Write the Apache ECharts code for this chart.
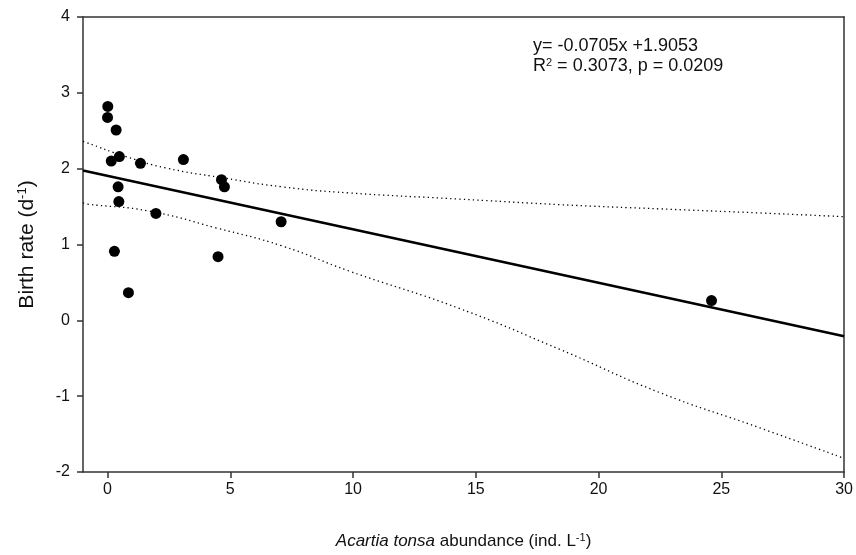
<!DOCTYPE html>
<html>
<head>
<meta charset="utf-8">
<script src="https://cdn.jsdelivr.net/npm/echarts@6/dist/echarts.min.js"></script>
<style>html,body{margin:0;padding:0;background:#fff;}#c{width:856px;height:555px;}</style>
</head>
<body>
<div id="c"></div>
<script>
// Observed data (abundance, birth rate)
var abundance = [0.01, 0.0, 0.35, 0.15, 0.48, 1.34, 3.09, 4.64, 4.76, 0.43, 0.46, 1.97, 7.07, 0.28, 4.5, 0.85, 24.6];
var birthRate = [2.82, 2.675, 2.51, 2.10, 2.16, 2.07, 2.12, 1.855, 1.76, 1.76, 1.566, 1.41, 1.30, 0.91, 0.84, 0.365, 0.26];

// Regression line endpoints
var fitX = [-1, 30];
var fitY = [1.976, -0.21];

// Upper confidence band
var upperX = [-1, -0.88, 0.745, 2.37, 4.68, 7.12, 9.84, 14.3, 18.4, 22.47, 26.5, 30];
var upperY = [2.36, 2.346, 2.16, 2.01, 1.88, 1.76, 1.68, 1.60, 1.526, 1.47, 1.417, 1.367];

// Lower confidence band
var lowerX = [-1, -0.88, 1.70, 4.41, 7.12, 9.84, 14.3, 18.4, 22.47, 26.5, 30];
var lowerY = [1.55, 1.535, 1.44, 1.22, 0.98, 0.65, 0.16, -0.38, -0.95, -1.41, -1.82];

var xTicks = [0, 5, 10, 15, 20, 25, 30];
var yTicks = [-2, -1, 0, 1, 2, 3, 4];

function pairs(xs, ys) { return xs.map(function (x, i) { return [x, ys[i]]; }); }

var FONT = 'Liberation Sans, Arial, sans-serif';
var axisCol = '#333';
var txt = '#111';

var chart = echarts.init(document.getElementById('c'), null, {renderer: 'canvas'});
chart.setOption({
  animation: false,
  backgroundColor: '#fff',
  grid: {left: 83, right: 11, top: 17, bottom: 82, containLabel: false},
  xAxis: [{
    type: 'value', min: -1, max: 30,
    position: 'bottom',
    axisLine: {show: true, onZero: false, lineStyle: {color: axisCol, width: 1.5}},
    axisTick: {show: true, inside: false, length: 6, customValues: xTicks, lineStyle: {color: axisCol, width: 1.5}},
    axisLabel: {show: true, customValues: xTicks, margin: 10, fontSize: 16, color: txt, fontFamily: FONT},
    splitLine: {show: false},
    name: '{i|Acartia tonsa} abundance (ind. L{s|-1})',
    nameLocation: 'middle', nameGap: 60,
    nameTextStyle: {
      fontSize: 17, color: txt, fontFamily: FONT,
      rich: {
        i: {fontStyle: 'italic', fontSize: 17, fontFamily: FONT, color: txt},
        s: {fontSize: 11, fontFamily: FONT, color: txt, verticalAlign: 'top', padding: [0, 0, 8, 0]}
      }
    }
  }, {
    type: 'value', min: -1, max: 30, position: 'top',
    axisLine: {show: true, onZero: false, lineStyle: {color: axisCol, width: 1.5}},
    axisTick: {show: false}, axisLabel: {show: false}, splitLine: {show: false}
  }],
  yAxis: [{
    type: 'value', min: -2, max: 4, interval: 1,
    axisLine: {show: true, onZero: false, lineStyle: {color: axisCol, width: 1.5}},
    axisTick: {show: true, inside: false, length: 6, lineStyle: {color: axisCol, width: 1.5}},
    axisLabel: {margin: 13, fontSize: 16, color: txt, fontFamily: FONT},
    splitLine: {show: false},
    name: 'Birth rate (d{s|-1})',
    nameLocation: 'middle', nameGap: 44, nameRotate: 90,
    nameTextStyle: {
      fontSize: 21, color: txt, fontFamily: FONT,
      rich: {
        s: {fontSize: 13, fontFamily: FONT, color: txt, verticalAlign: 'top', padding: [0, 0, 10, 0]}
      }
    }
  }, {
    type: 'value', min: -2, max: 4, interval: 1, position: 'right',
    axisLine: {show: true, onZero: false, lineStyle: {color: axisCol, width: 1.5}},
    axisTick: {show: false}, axisLabel: {show: false}, splitLine: {show: false}
  }],
  graphic: [{
    type: 'text', left: 533, top: 37,
    style: {text: 'y= -0.0705x +1.9053', fontSize: 18, fontFamily: FONT, fill: txt}
  }, {
    type: 'text', left: 533, top: 57,
    style: {
      text: 'R{s|2} = 0.3073, p = 0.0209', fontSize: 18, fontFamily: FONT, fill: txt,
      rich: {s: {fontSize: 11, fontFamily: FONT, fill: txt, verticalAlign: 'top', padding: [0, 0, 8, 0]}}
    }
  }],
  series: [{
    type: 'line', data: pairs(upperX, upperY), showSymbol: false, symbol: 'none', smooth: true,
    lineStyle: {color: '#000', width: 1.3, type: [1.3, 3.2]}, z: 2
  }, {
    type: 'line', data: pairs(lowerX, lowerY), showSymbol: false, symbol: 'none', smooth: true,
    lineStyle: {color: '#000', width: 1.3, type: [1.3, 3.2]}, z: 2
  }, {
    type: 'line', data: pairs(fitX, fitY), showSymbol: false, symbol: 'none',
    lineStyle: {color: '#000', width: 2.5}, z: 3
  }, {
    type: 'scatter', data: pairs(abundance, birthRate), symbol: 'circle', symbolSize: 11,
    itemStyle: {color: '#000', opacity: 1}, z: 4
  }]
});
</script>
</body>
</html>
